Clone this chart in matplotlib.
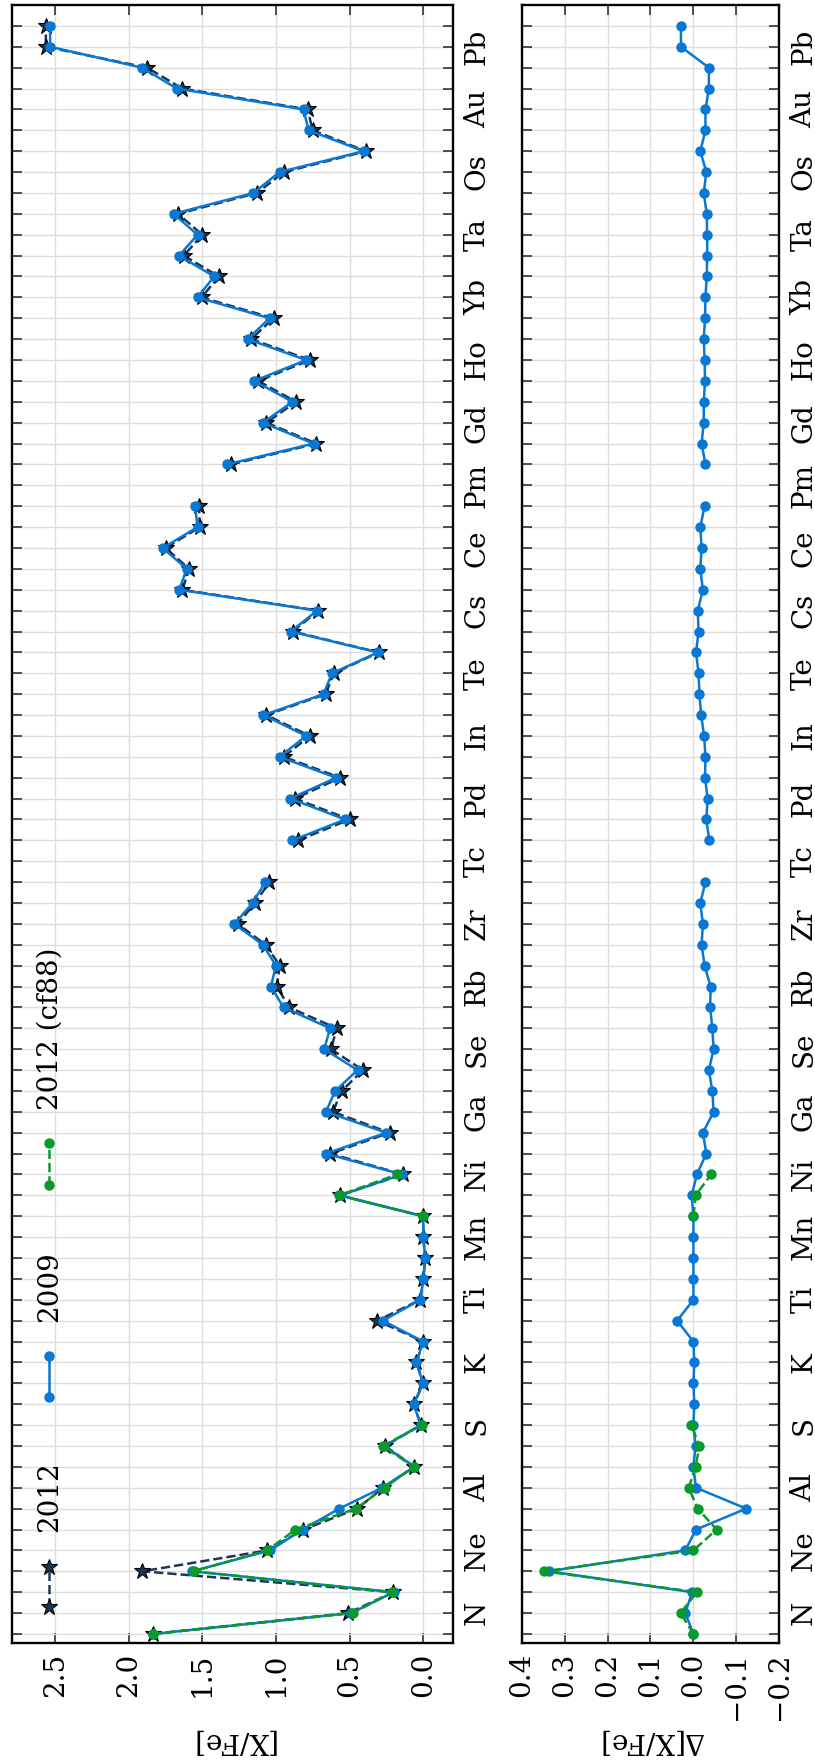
import numpy as np
import matplotlib
matplotlib.use('Agg')
import matplotlib.pyplot as plt

plt.rcParams['font.family'] = ['DejaVu Serif']
plt.rcParams['font.size'] = 20

nan = np.nan

# elements C (Z=6) .. Bi (Z=83)
elements = ['C', 'N', 'O', 'F', 'Ne', 'Na', 'Mg', 'Al', 'Si', 'P', 'S', 'Cl', 'Ar',
            'K', 'Ca', 'Sc', 'Ti', 'V', 'Cr', 'Mn', 'Fe', 'Co', 'Ni', 'Cu', 'Zn',
            'Ga', 'Ge', 'As', 'Se', 'Br', 'Kr', 'Rb', 'Sr', 'Y', 'Zr', 'Nb', 'Mo',
            'Tc', 'Ru', 'Rh', 'Pd', 'Ag', 'Cd', 'In', 'Sn', 'Sb', 'Te', 'I', 'Xe',
            'Cs', 'Ba', 'La', 'Ce', 'Pr', 'Nd', 'Pm', 'Sm', 'Eu', 'Gd', 'Tb', 'Dy',
            'Ho', 'Er', 'Tm', 'Yb', 'Lu', 'Hf', 'Ta', 'W', 'Re', 'Os', 'Ir', 'Pt',
            'Au', 'Hg', 'Tl', 'Pb', 'Bi']
z = np.arange(6, 84)
labelled = elements[1::3]

# [X/Fe]
xfe_2012 = [1.836, 0.509, 0.203, 1.907, 1.059, 0.814, 0.447, 0.274, 0.060, 0.260,
            0.016, 0.064, 0.000, 0.046, 0.000, 0.312, 0.020, 0.000, -0.014, 0.000,
            0.000, 0.568, 0.137, 0.631, 0.229, 0.614, 0.554, 0.410, 0.626, 0.588,
            0.910, 0.995, 0.974, 1.071, 1.260, 1.143, 1.045, nan, 0.851, 0.500,
            0.871, 0.564, 0.948, 0.770, 1.067, 0.663, 0.608, 0.302, 0.887, 0.712,
            1.636, 1.590, 1.750, 1.517, 1.523, nan, 1.306, 0.726, 1.065, 0.864,
            1.121, 0.769, 1.169, 1.017, 1.505, 1.389, 1.626, 1.501, 1.665, 1.129,
            0.946, 0.389, 0.751, 0.785, 1.637, 1.875, 2.563, 2.563]
xfe_2009 = [1.836, 0.490, 0.200, 1.570, 1.040, 0.820, 0.570, 0.280, 0.060, 0.265,
            0.016, 0.066, 0.000, 0.048, 0.000, 0.274, 0.020, 0.000, -0.014, 0.000,
            0.000, 0.564, 0.145, 0.661, 0.251, 0.661, 0.598, 0.446, 0.673, 0.632,
            0.949, 1.035, 1.000, 1.090, 1.282, 1.159, 1.073, nan, 0.888, 0.530,
            0.904, 0.591, 0.976, 0.795, 1.085, 0.677, 0.620, 0.308, 0.899, 0.722,
            1.658, 1.606, 1.769, 1.533, 1.549, nan, 1.334, 0.745, 1.089, 0.888,
            1.148, 0.795, 1.193, 1.044, 1.533, 1.420, 1.658, 1.533, 1.696, 1.153,
            0.976, 0.405, 0.779, 0.813, 1.673, 1.911, 2.534, 2.534]
xfe_cf88 = ([1.836, 0.479, 0.211, 1.560, 1.059, 0.868, 0.457, 0.263, 0.065, 0.274, 0.011]
            + [nan] * 9 + [0.000, 0.573, 0.178] + [nan] * 55)

# Delta[X/Fe] relative to 2012
dxfe_2009 = [0.000, 0.019, 0.003, 0.337, 0.019, -0.006, -0.123, -0.006, 0.000, -0.005,
             0.000, -0.002, 0.000, -0.002, 0.000, 0.038, 0.000, 0.000, 0.000, 0.000,
             0.000, 0.004, -0.008, -0.030, -0.022, -0.047, -0.044, -0.036, -0.047, -0.044,
             -0.039, -0.040, -0.026, -0.019, -0.022, -0.016, -0.028, nan, -0.037, -0.030,
             -0.033, -0.027, -0.028, -0.025, -0.018, -0.014, -0.012, -0.006, -0.012, -0.010,
             -0.022, -0.016, -0.019, -0.016, -0.026, nan, -0.028, -0.019, -0.024, -0.024,
             -0.027, -0.026, -0.024, -0.027, -0.028, -0.031, -0.032, -0.032, -0.031, -0.024,
             -0.030, -0.016, -0.028, -0.028, -0.036, -0.036, 0.029, 0.029]
dxfe_cf88 = ([0.000, 0.030, -0.008, 0.347, 0.000, -0.054, -0.010, 0.011, -0.005, -0.014, 0.005]
             + [nan] * 9 + [0.000, -0.005, -0.041] + [nan] * 55)

navy = '#1c3656'
blue = '#0878d4'
green = '#0a9a2a'

st_2012 = dict(color=navy, ls='--', lw=1.8, marker='*', ms=12, mfc=navy, mec='black', mew=0.8)
st_2009 = dict(color=blue, ls='-', lw=1.8, marker='o', ms=6.5)
st_cf88 = dict(color=green, ls='--', lw=1.8, marker='o', ms=6.5)

fig = plt.figure(figsize=(8.15, 17.64), dpi=100)
ax1 = fig.add_axes([0.01436, 0.06876, 0.5411, 0.9284])
ax2 = fig.add_axes([0.6401, 0.06876, 0.3161, 0.9284])

ax1.plot(xfe_2012, z, **st_2012)
ax1.plot(xfe_2009, z, **st_2009)
ax1.plot(xfe_cf88, z, **st_cf88)

ax2.plot(dxfe_2009, z, **st_2009)
ax2.plot(dxfe_cf88, z, **st_cf88)


def style(ax, xlim, xticks, xlabel):
    ax.set_xlim(*xlim)
    ax.set_ylim(5.58, 84.0)
    ax.set_xticks(xticks)
    ax.set_yticks(z)
    ax.set_yticklabels([s if s in labelled else '' for s in elements])
    ax.grid(True, color='#dddddd', lw=1.0)
    ax.set_axisbelow(True)
    ax.tick_params(axis='both', direction='in', length=7, width=1.2, color='#333333',
                   top=True, bottom=True, left=True, right=True,
                   labelleft=False, labelright=True, pad=7)
    ax.tick_params(axis='x', labelrotation=90)
    ax.tick_params(axis='y', labelrotation=90, pad=8)
    for lab in ax.get_yticklabels():
        lab.set_va('center')
    for sp in ax.spines.values():
        sp.set_linewidth(1.7)
        sp.set_color('black')
    ax.set_xlabel(xlabel, rotation=180, fontsize=20)
    ax.xaxis.set_label_coords(0.5, -0.0515)


style(ax1, (2.795, -0.2), [2.5, 2.0, 1.5, 1.0, 0.5, 0.0], '[X/Fe]')
style(ax2, (0.4, -0.2), [0.4, 0.3, 0.2, 0.1, 0.0, -0.1, -0.2], '\u0394[X/Fe]')

# legend, drawn upright along the left edge
leg_x = 0.0846
entries = [('2012', st_2012, 0.0216, 0.0464, 0.0676),
           ('2009', st_2009, 0.1502, 0.1752, 0.1960),
           ('2012 (cf88)', st_cf88, 0.2795, 0.3049, 0.3253)]
for name, st, y0, y1, yt in entries:
    ax1.plot([leg_x, leg_x], [y0, y1], transform=ax1.transAxes, clip_on=False, **st)
    ax1.text(leg_x + 0.002, yt, name, transform=ax1.transAxes, rotation=90,
             ha='center', va='bottom', fontsize=20)

fig.savefig('out.png', dpi=100)
